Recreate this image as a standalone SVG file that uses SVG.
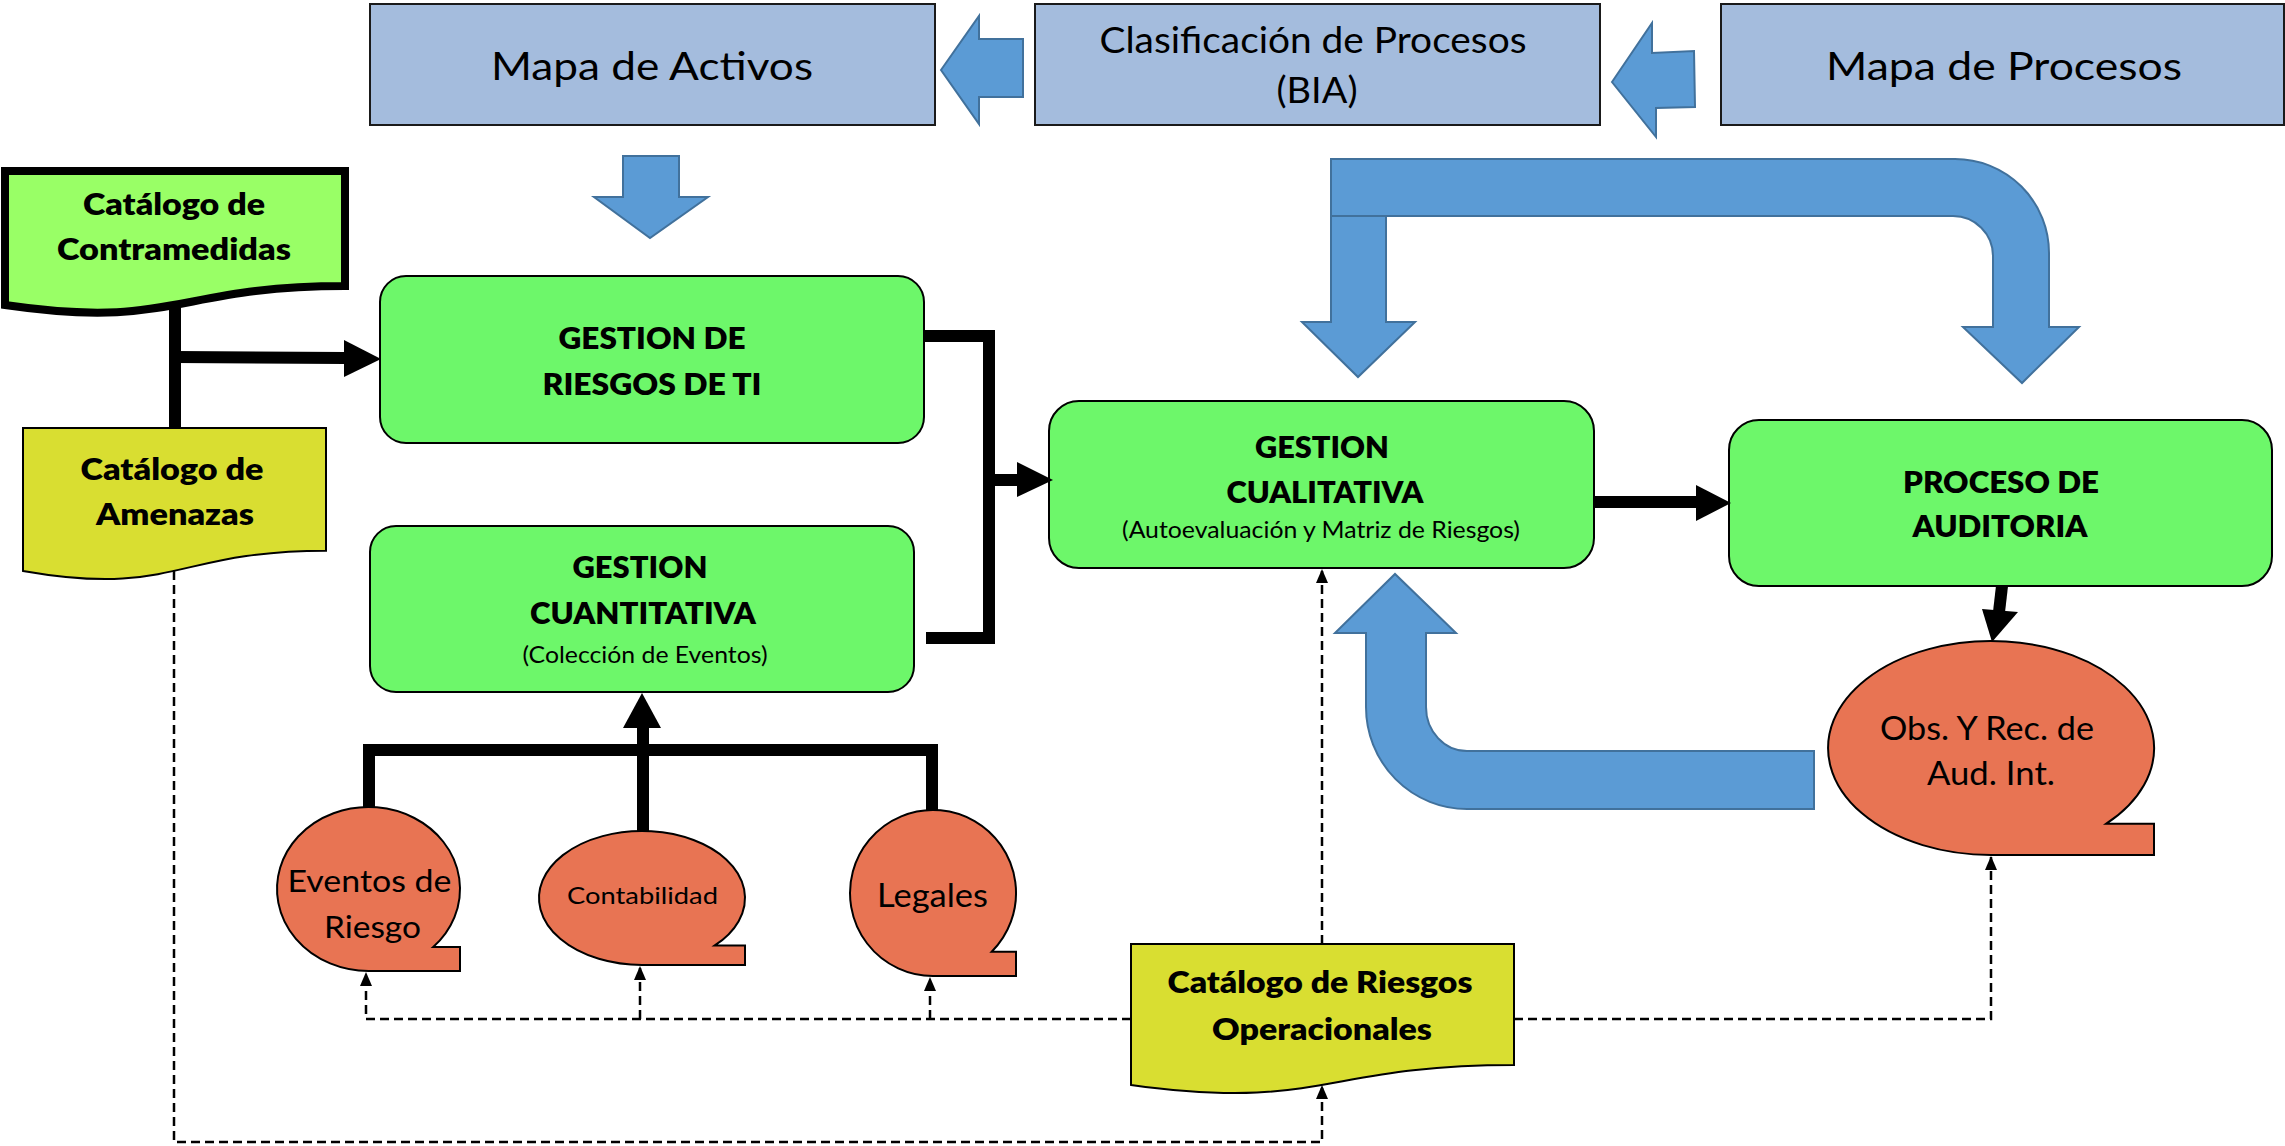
<svg xmlns="http://www.w3.org/2000/svg" width="2285" height="1146" viewBox="0 0 2285 1146">
  <style>
    .lbl { font-family: Lato, "Open Sans", "Liberation Sans", sans-serif; fill: #000; text-anchor: middle; }
    .b { font-weight: 800; }
    .top { fill: #A4BCDD; stroke: #1a1a1a; stroke-width: 2; }
    .green { fill: #6DF76A; stroke: #000; stroke-width: 2; }
    .orange { fill: #E87453; stroke: #000; stroke-width: 2; }
    .doc { fill: #D9DE31; stroke: #000; stroke-width: 2; }
    .blue { fill: #5B9BD5; stroke: #41719C; stroke-width: 2; stroke-linejoin: miter; }
    .thick { fill: none; stroke: #000; stroke-width: 12; stroke-linejoin: miter; }
    .head { fill: #000; }
    .dash { fill: none; stroke: #000; stroke-width: 2.5; stroke-dasharray: 9 5; }
  </style>
  <defs>
    <marker id="tri" viewBox="0 0 10 10" refX="10" refY="5" markerWidth="14" markerHeight="12" markerUnits="userSpaceOnUse" orient="auto" preserveAspectRatio="none">
      <path d="M0,0 L10,5 L0,10 Z" fill="#000"/>
    </marker>
  </defs>
  <rect width="2285" height="1146" fill="#fff"/>

  <!-- top row -->
  <g id="n-mapa-activos">
    <rect class="top" x="370" y="4" width="565" height="121"/>
    <text class="lbl" x="652" y="80" font-size="39" textLength="322" lengthAdjust="spacingAndGlyphs">Mapa de Activos</text>
  </g>
  <g id="n-clasificacion">
    <rect class="top" x="1035" y="4" width="565" height="121"/>
    <text class="lbl" x="1313" y="53" font-size="37" textLength="427" lengthAdjust="spacingAndGlyphs">Clasificación de Procesos</text>
    <text class="lbl" x="1317" y="103" font-size="37" textLength="81" lengthAdjust="spacingAndGlyphs">(BIA)</text>
  </g>
  <g id="n-mapa-procesos">
    <rect class="top" x="1721" y="4" width="563" height="121"/>
    <text class="lbl" x="2004" y="80" font-size="39" textLength="356" lengthAdjust="spacingAndGlyphs">Mapa de Procesos</text>
  </g>

  <!-- catalogues -->
  <g id="n-contramedidas">
    <path d="M5,171 H345 V286.1 C175,286.1 175,329.9 5,305 Z" fill="#99FF66" stroke="#000" stroke-width="8"/>
    <text class="lbl b" x="174" y="215" font-size="31" textLength="182" lengthAdjust="spacingAndGlyphs">Catálogo de</text>
    <text class="lbl b" x="174" y="260" font-size="31" textLength="234" lengthAdjust="spacingAndGlyphs">Contramedidas</text>
  </g>
  <g id="n-amenazas">
    <path class="doc" d="M23,428 H326 V550.7 C174.5,550.7 174.5,597.5 23,570.9 Z"/>
    <text class="lbl b" x="172" y="480" font-size="31" textLength="183" lengthAdjust="spacingAndGlyphs">Catálogo de</text>
    <text class="lbl b" x="175" y="525" font-size="31" textLength="158" lengthAdjust="spacingAndGlyphs">Amenazas</text>
  </g>
  <g id="n-riesgos-op">
    <path class="doc" d="M1131,944 H1514 V1065.1 C1322.5,1065.1 1322.5,1111.2 1131,1085 Z"/>
    <text class="lbl b" x="1320" y="993" font-size="31" textLength="305" lengthAdjust="spacingAndGlyphs">Catálogo de Riesgos</text>
    <text class="lbl b" x="1322" y="1040" font-size="31" textLength="220" lengthAdjust="spacingAndGlyphs">Operacionales</text>
  </g>

  <!-- process boxes -->
  <g id="n-riesgos-ti">
    <rect class="green" x="380" y="276" width="544" height="167" rx="26"/>
    <text class="lbl b" x="652" y="349" font-size="31" textLength="187" lengthAdjust="spacingAndGlyphs">GESTION DE</text>
    <text class="lbl b" x="652" y="395" font-size="31" textLength="219" lengthAdjust="spacingAndGlyphs">RIESGOS DE TI</text>
  </g>
  <g id="n-cuantitativa">
    <rect class="green" x="370" y="526" width="544" height="166" rx="26"/>
    <text class="lbl b" x="640" y="578" font-size="31" textLength="135" lengthAdjust="spacingAndGlyphs">GESTION</text>
    <text class="lbl b" x="643" y="624" font-size="31" textLength="226" lengthAdjust="spacingAndGlyphs">CUANTITATIVA</text>
    <text class="lbl" x="645" y="663" font-size="23" textLength="245" lengthAdjust="spacingAndGlyphs">(Colección de Eventos)</text>
  </g>
  <g id="n-cualitativa">
    <rect class="green" x="1049" y="401" width="545" height="167" rx="30"/>
    <text class="lbl b" x="1322" y="458" font-size="31" textLength="134" lengthAdjust="spacingAndGlyphs">GESTION</text>
    <text class="lbl b" x="1325" y="503" font-size="31" textLength="197" lengthAdjust="spacingAndGlyphs">CUALITATIVA</text>
    <text class="lbl" x="1321" y="538" font-size="23" textLength="398" lengthAdjust="spacingAndGlyphs">(Autoevaluación y Matriz de Riesgos)</text>
  </g>
  <g id="n-auditoria">
    <rect class="green" x="1729" y="420" width="543" height="166" rx="30"/>
    <text class="lbl b" x="2001" y="493" font-size="31" textLength="196" lengthAdjust="spacingAndGlyphs">PROCESO DE</text>
    <text class="lbl b" x="2000" y="537" font-size="31" textLength="175" lengthAdjust="spacingAndGlyphs">AUDITORIA</text>
  </g>

  <!-- storage-style sources -->
  <g id="n-obs">
    <path class="orange" d="M1991,855 A163,107 0 1 1 2106.3,823.7 L2154,823.7 L2154,855 Z"/>
    <text class="lbl" x="1987" y="740" font-size="32" textLength="214" lengthAdjust="spacingAndGlyphs">Obs. Y Rec. de</text>
    <text class="lbl" x="1991" y="785" font-size="32" textLength="128" lengthAdjust="spacingAndGlyphs">Aud. Int.</text>
  </g>
  <g id="n-eventos">
    <path class="orange" d="M368.5,971 A91.5,82 0 1 1 433.2,947 L460,947 L460,971 Z"/>
    <text class="lbl" x="369.5" y="892" font-size="31" textLength="164" lengthAdjust="spacingAndGlyphs">Eventos de</text>
    <text class="lbl" x="372.5" y="938" font-size="31" textLength="97" lengthAdjust="spacingAndGlyphs">Riesgo</text>
  </g>
  <g id="n-contabilidad">
    <path class="orange" d="M642,965 A103,67 0 1 1 714.8,945.4 L745,945.4 L745,965 Z"/>
    <text class="lbl" x="642.5" y="904" font-size="24" textLength="151" lengthAdjust="spacingAndGlyphs">Contabilidad</text>
  </g>
  <g id="n-legales">
    <path class="orange" d="M933,976 A83,83 0 1 1 991.7,951.7 L1016,951.7 L1016,976 Z"/>
    <text class="lbl" x="932.5" y="907" font-size="32" textLength="111" lengthAdjust="spacingAndGlyphs">Legales</text>
  </g>

  <g id="connectors">
    <!-- block arrows along the top row -->
    <polygon class="blue" points="941,70 979,16 979,39 1023,39 1023,97 979,97 979,124"/>
    <polygon class="blue" points="1612,82 1652,23 1652,53 1694,51 1695,107 1656,108 1656,137"/>
    <polygon class="blue" points="623,156 679,156 679,197 708,197 650,238 594,197 623,197"/>
    <!-- split arrow from the process map -->
    <path class="blue" d="M1331,200 V322 H1302 L1358,377 L1415,322 H1386 V200 Z"/>
    <path class="blue" d="M1331,159 H1955 A94,94 0 0 1 2049,253 V327 H2079 L2022,383 L1963,327 H1993 V256 A40,40 0 0 0 1953,216 H1331 Z"/>
    <!-- feedback from audit findings -->
    <path class="blue" d="M1814,751 H1467 A41,44 0 0 1 1426,707 V633 H1456 L1395,574 L1335,633 H1366 V707 A101,102 0 0 0 1467,809 H1814 Z"/>

    <!-- solid flow lines -->
    <path class="thick" d="M175,305 V428"/>
    <path class="thick" d="M175,357 L345,358"/>
    <polygon class="head" points="344,340 381,359 344,377"/>
    <path class="thick" d="M924,336 H989 V638 H926"/>
    <path class="thick" d="M989,480 H1018"/>
    <polygon class="head" points="1017,462 1053,480 1017,497"/>
    <path class="thick" d="M1594,502 H1697"/>
    <polygon class="head" points="1696,485 1731,503 1696,521"/>
    <path class="thick" d="M2002,586 L1999,612"/>
    <polygon class="head" points="1982,609 2018,612 1992,642"/>
    <path class="thick" d="M369,808 V750 H932 V810"/>
    <path class="thick" d="M643,831 V726"/>
    <polygon class="head" points="623,728 642,693 661,728"/>

    <!-- dashed references to the catalogues -->
    <path class="dash" d="M174,571 V1142 H1322 V1085" marker-end="url(#tri)"/>
    <path class="dash" d="M1131,1019 H366 V972" marker-end="url(#tri)"/>
    <path class="dash" d="M640,1019 V966" marker-end="url(#tri)"/>
    <path class="dash" d="M930,1019 V977" marker-end="url(#tri)"/>
    <path class="dash" d="M1322,944 V569" marker-end="url(#tri)"/>
    <path class="dash" d="M1514,1019 H1991 V856" marker-end="url(#tri)"/>
  </g>
</svg>
